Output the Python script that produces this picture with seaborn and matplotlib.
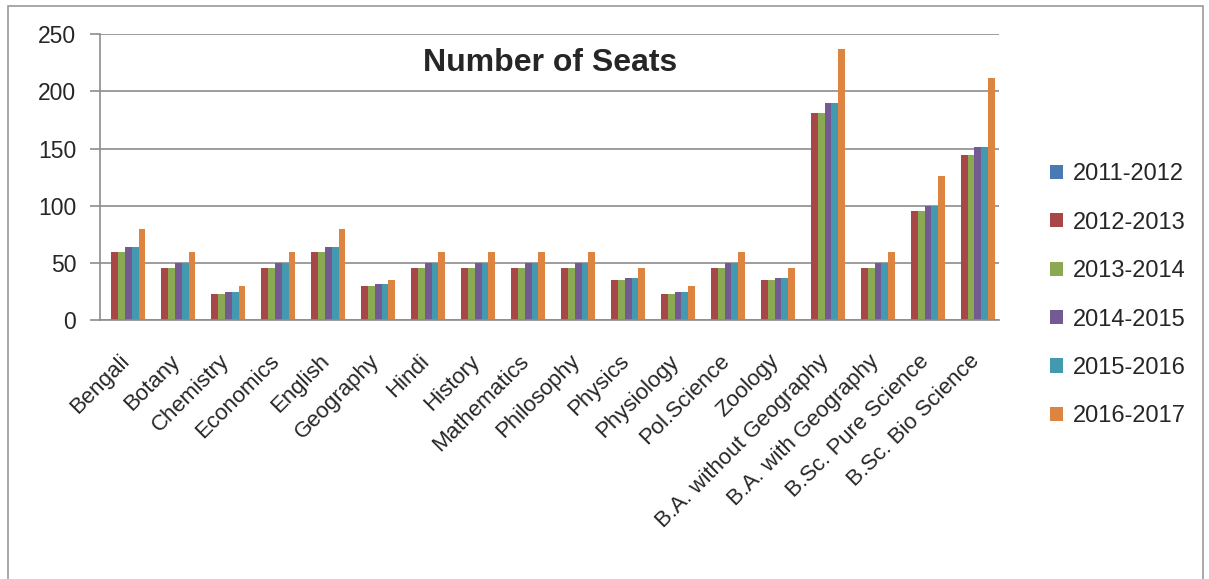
import seaborn as sns, pandas as pd, matplotlib.pyplot as plt
from matplotlib.patches import Rectangle
from matplotlib.transforms import ScaledTranslation

subjects = ['Bengali', 'Botany', 'Chemistry', 'Economics', 'English', 'Geography', 'Hindi',
            'History', 'Mathematics', 'Philosophy', 'Physics', 'Physiology', 'Pol.Science',
            'Zoology', 'B.A. without Geography', 'B.A. with Geography', 'B.Sc. Pure Science',
            'B.Sc. Bio Science']
years = ['2011-2012', '2012-2013', '2013-2014', '2014-2015', '2015-2016', '2016-2017']

# 2011-2012 has no visible bars
s2011 = [0] * 18
s2012 = [60, 46, 23, 46, 60, 30, 46, 46, 46, 46, 35, 23, 46, 35, 181, 46, 95, 144]
s2013 = [60, 46, 23, 46, 60, 30, 46, 46, 46, 46, 35, 23, 46, 35, 181, 46, 95, 144]
s2014 = [64, 50, 25, 50, 64, 32, 50, 50, 50, 50, 37, 25, 50, 37, 190, 50, 100, 151]
s2015 = [64, 50, 25, 50, 64, 32, 50, 50, 50, 50, 37, 25, 50, 37, 190, 50, 100, 151]
s2016 = [80, 60, 30, 60, 80, 35, 60, 60, 60, 60, 46, 30, 60, 46, 237, 60, 126, 212]

colors = ['#4A7AB3', '#A84748', '#8BA952', '#735A93', '#4399B0', '#DD8440']

rows = []
for yr, vals in zip(years, [s2011, s2012, s2013, s2014, s2015, s2016]):
    for sub, v in zip(subjects, vals):
        rows.append({'subject': sub, 'year': yr, 'seats': v})
df = pd.DataFrame(rows)

sns.set_style('white')
plt.rcParams['font.family'] = ['Liberation Sans', 'DejaVu Sans']

fig = plt.figure(figsize=(12.09, 5.79), dpi=100)
ax = fig.add_axes([0.0827, 0.447, 0.744, 0.494])

sns.barplot(data=df, x='subject', y='seats', hue='year', palette=colors, width=0.82,
            saturation=1, linewidth=0, ax=ax)
handles, labels = ax.get_legend_handles_labels()
ax.get_legend().remove()

ax.set_ylim(0, 250)
ax.set_xlim(-0.5, 17.5)
ax.set_yticks(range(0, 251, 50))
ax.yaxis.grid(True, color='#8c8c8c', lw=1.2)
ax.set_axisbelow(True)
ax.set_xlabel('')
ax.set_ylabel('')
for sp in ['top', 'right']:
    ax.spines[sp].set_visible(False)
for sp in ['left', 'bottom']:
    ax.spines[sp].set_color('#8c8c8c')
    ax.spines[sp].set_linewidth(1.2)

ax.set_xticks(range(18))
ax.set_xticklabels(subjects, rotation=45, ha='right', rotation_mode='anchor', fontsize=16)
ax.set_xticks([i - 0.5 for i in range(19)], minor=True)
ax.tick_params(axis='x', which='major', length=0, pad=22)
ax.tick_params(axis='x', which='minor', length=6, color='#8c8c8c', width=1.2, direction='out')
ax.tick_params(axis='y', length=7, color='#8c8c8c', width=1.2, direction='out', labelsize=16.5, pad=10)
ax.tick_params(bottom=True, left=True)
shift = ScaledTranslation(-6 / 100, 0, fig.dpi_scale_trans)
for lbl in ax.get_xticklabels():
    lbl.set_transform(lbl.get_transform() + shift)

ax.text(0.5, 0.90, 'Number of Seats', transform=ax.transAxes, ha='center', va='center',
        fontsize=23, fontweight='bold')

fig.legend(handles, labels, loc='center left', bbox_to_anchor=(0.851, 0.49), frameon=False,
           fontsize=17, labelspacing=1.12, handlelength=0.55, handleheight=0.55, handletextpad=0.4)

fig.patches.append(Rectangle((0.007, -0.01), 0.988, 1.0, transform=fig.transFigure,
                             fill=False, edgecolor='#9a9a9a', lw=1.2))

fig.savefig('out.png', dpi=100)
